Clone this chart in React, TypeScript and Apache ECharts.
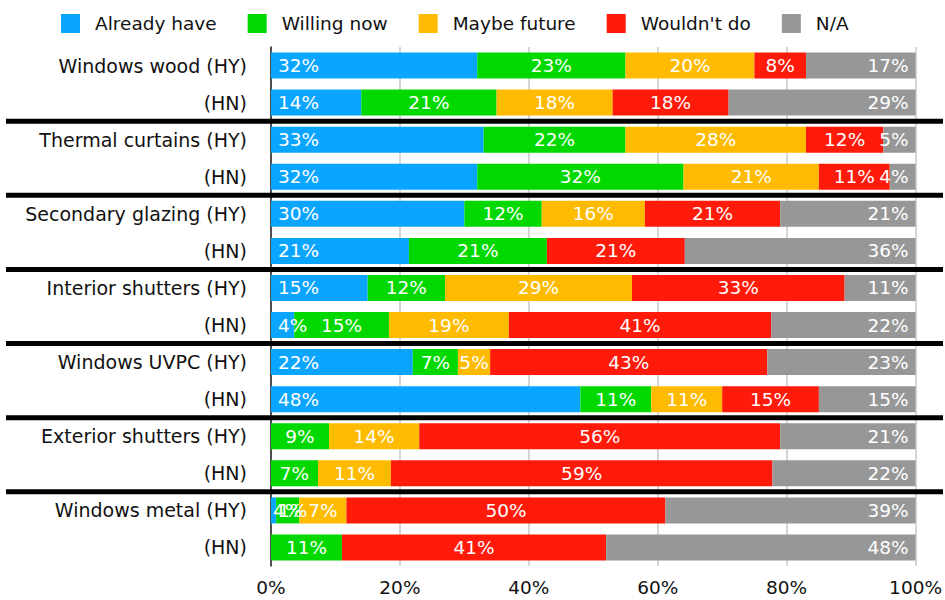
import React, { useEffect, useRef } from "react";
import * as echarts from "echarts";

const items = [
  "Windows wood",
  "Thermal curtains",
  "Secondary glazing",
  "Interior shutters",
  "Windows UVPC",
  "Exterior shutters",
  "Windows metal",
];
const groups = ["HY", "HN"];
const seriesNames = ["Already have", "Willing now", "Maybe future", "Wouldn't do", "N/A"];
const colors = ["#0aa5ff", "#00d800", "#ffbb00", "#ff1a0a", "#979797"];

// rows in order: Windows wood HY, HN, Thermal curtains HY, HN, ...
const alreadyHave = [32, 14, 33, 32, 30, 21.4, 15, 3.6, 22, 48, 0, 0, 0.8, 0];
const willingNow = [23, 21, 22, 32, 12, 21.4, 12, 14.7, 7, 11, 9, 7.3, 3.6, 11];
const maybeFuture = [20, 18, 28, 21, 16, 0, 29, 18.6, 5, 11, 14, 11.3, 7.3, 0];
const wouldntDo = [8, 18, 12, 11, 21, 21.4, 33, 40.7, 43, 15, 56, 59.2, 49.5, 41];
const notApplicable = [17, 29, 5, 4, 21, 35.8, 11, 22.4, 23, 15, 21, 22.2, 38.8, 48];

const xTicks = [0, 20, 40, 60, 80, 100];

const FONT = "DejaVu Sans";

export default function App() {
  const ref = useRef<HTMLDivElement>(null);
  useEffect(() => {
    document.body.style.margin = "0";
    if (!ref.current) return;
    const chart = echarts.init(ref.current, undefined, { renderer: "svg" });
    const categories: string[] = [];
    items.forEach((it) => groups.forEach((g) => categories.push(`${it} (${g})`)));
    const allData = [alreadyHave, willingNow, maybeFuture, wouldntDo, notApplicable];
    const positions = ["insideLeft", "inside", "inside", "inside", "insideRight"];
    chart.setOption({
      animation: false,
      textStyle: { fontFamily: FONT },
      legend: {
        top: 9,
        left: 56,
        itemWidth: 19,
        itemHeight: 19,
        itemGap: 31,
        icon: "rect",
        textStyle: { fontFamily: FONT, fontSize: 18.5, color: "#111", padding: [0, 0, 0, 10] },
        data: seriesNames,
      },
      grid: { left: 271, right: 29, top: 47, bottom: 34, containLabel: false },
      xAxis: {
        type: "value",
        min: xTicks[0],
        max: xTicks[xTicks.length - 1],
        interval: 20,
        axisLine: { show: false },
        axisTick: { show: false },
        splitLine: { show: true, lineStyle: { color: "#c8c8c8", width: 1.5 } },
        axisLabel: {
          formatter: "{value}%",
          fontFamily: FONT,
          fontSize: 18.5,
          color: "#111",
          margin: 12,
        },
      },
      yAxis: {
        type: "category",
        inverse: true,
        data: categories,
        axisTick: { show: false },
        axisLine: { show: true, lineStyle: { color: "#222", width: 1.5 } },
        axisLabel: {
          fontFamily: FONT,
          fontSize: 19,
          color: "#111",
          margin: 24,
          formatter: (v: string) => (v.endsWith("(HN)") ? "(HN)" : v),
        },
      },
      series: seriesNames.map((name, i) => ({
        name,
        type: "bar",
        stack: "total",
        barWidth: 26,
        itemStyle: { color: colors[i] },
        label: {
          show: true,
          position: positions[i],
          distance: 7,
          color: "#fff",
          fontFamily: FONT,
          fontSize: 18.5,
          formatter: (p: any) => (p.value < 0.5 ? "" : `${Math.round(p.value)}%`),
        },
        data: allData[i],
      })),
    });
    const lines: any[] = [];
    for (let k = 1; k < items.length; k++) {
      const a = chart.convertToPixel({ yAxisIndex: 0 }, categories[2 * k - 1]) as number;
      const b = chart.convertToPixel({ yAxisIndex: 0 }, categories[2 * k]) as number;
      const y = (a + b) / 2;
      lines.push({
        type: "line",
        z: 100,
        shape: { x1: 6, y1: y, x2: 943, y2: y },
        style: { stroke: "#000", lineWidth: 5 },
      });
    }
    chart.setOption({ graphic: lines });
    return () => chart.dispose();
  }, []);
  return <div ref={ref} style={{ width: 945, height: 600 }} />;
}
